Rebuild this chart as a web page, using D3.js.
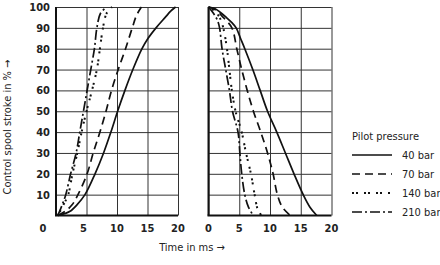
<!DOCTYPE html>
<html>
<head>
<meta charset="utf-8">
<script src="https://cdn.jsdelivr.net/npm/d3@7"></script>
<style>
  body { margin: 0; background: #fff; }
  svg { display: block; font-family: "DejaVu Sans Condensed", "Liberation Sans Narrow", "Liberation Sans", sans-serif; }
  .tick-label { font-weight: bold; font-size: 11px; fill: #222; }
  .title { font-size: 11px; fill: #222; }
</style>
</head>
<body>
<svg id="chart" width="440" height="265"></svg>
<script>
// values: [time in ms, spool stroke in %]
var pressures = ['40 bar', '70 bar', '140 bar', '210 bar'];
var timeTicks = [0, 5, 10, 15, 20];
var strokeTicks = [10, 20, 30, 40, 50, 60, 70, 80, 90, 100];

// switching on (left panel)
var on40 = [[0.3,0],[1.5,1],[2.3,2],[3.4,5],[4.75,10],[6.4,20],[7.8,30],[9.0,40],[10.1,50],[11.3,60],[12.6,70],[14.1,80],[15.1,85],[16.4,90],[17.9,95],[18.8,98],[19.6,100]];
var on70 = [[0.3,0],[1.5,2],[2.6,5],[3.6,10],[5.1,20],[6.1,30],[7.2,40],[8.2,50],[9.1,60],[10.2,70],[11.4,80],[12.5,90],[13.2,96],[14.0,100]];
var on140 = [[0.3,0],[1.2,5],[2.0,10],[2.7,20],[3.5,30],[4.2,40],[5.0,50],[5.9,60],[6.7,70],[7.2,80],[7.7,90],[8.3,97],[9.2,100]];
var on210 = [[0.3,0],[1.0,5],[1.6,10],[2.4,20],[3.3,30],[3.9,40],[4.5,50],[5.1,60],[5.7,70],[6.3,80],[6.7,90],[7.3,97],[8.3,100]];

// switching off (right panel)
var off40 = [[0,100],[1.0,99.3],[1.9,97.5],[2.9,95],[3.8,92.5],[4.5,90],[5.2,85],[5.9,80],[7.2,70],[8.4,60],[9.6,50],[11.1,40],[12.5,30],[13.9,20],[15.4,10],[16.5,4],[17.6,0]];
var off70 = [[0,100],[1.2,98.5],[2.4,95],[3.8,90],[4.6,80],[5.4,70],[6.3,60],[7.3,50],[8.5,40],[9.6,30],[10.5,20],[11.2,10],[12.0,4],[13.3,0]];
var off140 = [[0,100],[1.0,98],[1.8,95],[2.4,90],[3.0,80],[3.4,70],[3.8,60],[4.4,50],[5.4,40],[6.1,30],[6.9,20],[7.5,10],[8.0,3],[8.6,0]];
var off210 = [[0,100],[0.8,97],[1.4,94],[1.8,90],[2.2,80],[2.8,70],[3.4,60],[3.9,50],[4.8,40],[5.1,30],[5.4,20],[5.9,10],[6.5,4],[7.3,0]];

(function() {
  'use strict';

  var svg = d3.select('#chart');
  var dashes = ['none', '8,5', '2,2,2,6', '10,3,2,3'];

  var y = d3.scaleLinear().domain([0, 100]).range([215.5, 7]);
  var panels = [
    { x: d3.scaleLinear().domain([0, 20]).range([56, 178]), series: [on40, on70, on140, on210], labelShift: { 0: -13, 5: -3 } },
    { x: d3.scaleLinear().domain([0, 20]).range([208.5, 331.5]), series: [off40, off70, off140, off210], labelShift: {} }
  ];

  panels.forEach(function(p) {
    var g = svg.append('g');

    // grid
    g.append('g')
      .call(d3.axisBottom(p.x).tickValues(timeTicks).tickSize(y(0) - y(100)).tickFormat(''))
      .attr('transform', 'translate(0,' + y(100) + ')')
      .call(function(s) { s.select('.domain').remove(); s.selectAll('line').attr('stroke', '#333').attr('stroke-width', 1); });
    g.append('g')
      .call(d3.axisRight(y).tickValues(strokeTicks).tickSize(p.x(20) - p.x(0)).tickFormat(''))
      .attr('transform', 'translate(' + p.x(0) + ',0)')
      .call(function(s) { s.select('.domain').remove(); s.selectAll('line').attr('stroke', '#333').attr('stroke-width', 1); });

    // heavy axes
    g.append('line').attr('x1', p.x(0)).attr('x2', p.x(0)).attr('y1', y(100)).attr('y2', y(0))
      .attr('stroke', '#111').attr('stroke-width', 2);
    g.append('line').attr('x1', p.x(0) - 1).attr('x2', p.x(20)).attr('y1', y(0)).attr('y2', y(0))
      .attr('stroke', '#111').attr('stroke-width', 2);

    // time labels
    g.selectAll('text.xl').data(timeTicks).enter().append('text')
      .attr('class', 'tick-label xl')
      .attr('x', function(d) { return p.x(d) + (p.labelShift[d] || 0); })
      .attr('y', 232)
      .attr('text-anchor', 'middle')
      .text(function(d) { return d; });

    var line = d3.line()
      .x(function(d) { return p.x(d[0]); })
      .y(function(d) { return y(d[1]); })
      .curve(d3.curveCatmullRom.alpha(0.5));

    p.series.forEach(function(s, i) {
      g.append('path').datum(s)
        .attr('d', line)
        .attr('fill', 'none')
        .attr('stroke', '#111')
        .attr('stroke-width', i === 2 ? 2 : 1.7)
        .attr('stroke-dasharray', dashes[i]);
    });
  });

  // stroke labels
  svg.selectAll('text.yl').data(strokeTicks).enter().append('text')
    .attr('class', 'tick-label yl')
    .attr('x', 50)
    .attr('y', function(d) { return y(d) + 4; })
    .attr('text-anchor', 'end')
    .text(function(d) { return d; });

  svg.append('text').attr('class', 'title')
    .attr('transform', 'translate(11,127) rotate(-90)')
    .attr('text-anchor', 'middle')
    .text('Control spool stroke in % \u2192');

  svg.append('text').attr('class', 'title')
    .attr('x', 192).attr('y', 251)
    .attr('text-anchor', 'middle')
    .text('Time in ms \u2192');

  // legend
  var legend = svg.append('g');
  legend.append('text').attr('class', 'title').attr('x', 352).attr('y', 140).text('Pilot pressure');
  pressures.forEach(function(label, i) {
    var ly = 155 + i * 19;
    legend.append('line').attr('x1', 352).attr('x2', 392).attr('y1', ly).attr('y2', ly)
      .attr('stroke', '#111').attr('stroke-width', i === 2 ? 2 : 1.7)
      .attr('stroke-dasharray', dashes[i]);
    legend.append('text').attr('class', 'title').attr('x', 402).attr('y', ly + 4).text(label);
  });
})();
</script>
</body>
</html>
